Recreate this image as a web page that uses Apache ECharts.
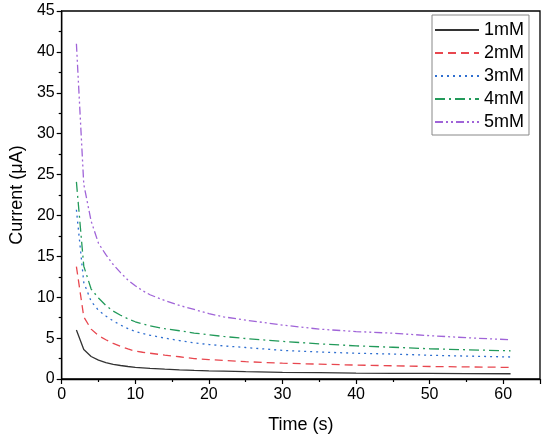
<!DOCTYPE html>
<html>
<head>
<meta charset="utf-8">
<script src="https://cdn.jsdelivr.net/npm/echarts@6/dist/echarts.min.js"></script>
<style>
html,body{margin:0;padding:0;background:#fff;}
#chart{width:550px;height:442px;}
</style>
</head>
<body>
<div id="chart"></div>
<script>
const times = [2,3,4,5,6,7,8,9,10,11,12,14,16,18,20,22,25,30,35,40,45,50,55,61];
const c1mM = [6.0,3.6,2.75,2.3,2.0,1.78,1.65,1.53,1.42,1.36,1.3,1.2,1.12,1.05,1.0,0.96,0.9,0.82,0.77,0.73,0.7,0.68,0.66,0.64];
const c2mM = [13.75,7.6,6.1,5.3,4.8,4.35,4.0,3.68,3.4,3.27,3.15,2.92,2.72,2.5,2.38,2.27,2.12,1.93,1.82,1.7,1.62,1.53,1.48,1.42];
const c3mM = [20.7,11.8,9.5,8.4,7.7,7.1,6.6,6.17,5.8,5.56,5.35,5.0,4.7,4.42,4.22,4.05,3.85,3.5,3.3,3.15,3.05,2.9,2.8,2.69];
const c4mM = [24.1,13.8,11.0,9.9,9.0,8.3,7.8,7.36,7.0,6.74,6.5,6.15,5.9,5.62,5.4,5.2,4.95,4.6,4.3,4.05,3.88,3.7,3.57,3.45];
const c5mM = [41.0,23.8,19.3,16.6,15.2,14.0,13.0,12.1,11.4,10.8,10.3,9.6,9.0,8.5,8.0,7.6,7.2,6.6,6.1,5.8,5.6,5.3,5.05,4.8];
const seriesNames = ['1mM','2mM','3mM','4mM','5mM'];
const seriesValues = [c1mM,c2mM,c3mM,c4mM,c5mM];
const xTicks = {min:0,max:65,interval:10};
const yTicks = {min:0,max:45,interval:5};

const colors = ['#333333','#e8474f','#2f6fd0','#229a5a','#a064d8'];
const dashes = ['solid',[8,5],[2,4],[10,4,2,4],[8,3,2,3,2,3]];
const font = 'Liberation Sans, Arial, sans-serif';

const chart = echarts.init(document.getElementById('chart'), null, {renderer:'canvas'});
chart.setOption({
  animation:false,
  backgroundColor:'#fff',
  grid:{left:60,right:10,top:11,bottom:63,show:true,borderColor:'#000',borderWidth:1.3,containLabel:false},
  legend:{
    orient:'vertical',left:432,top:15,
    borderColor:'#888',borderWidth:1,padding:[6,5,4,2],
    itemWidth:44,itemHeight:14,itemGap:5,
    itemStyle:{opacity:0},
    textStyle:{fontFamily:font,fontSize:18,color:'#000'},
    data:seriesNames
  },
  xAxis:{
    type:'value',min:xTicks.min,max:xTicks.max,interval:xTicks.interval,
    name:'Time (s)',nameLocation:'middle',nameGap:37,
    nameTextStyle:{fontFamily:font,fontSize:18,color:'#000'},
    axisLine:{show:true,lineStyle:{color:'#000',width:1.3}},
    axisTick:{show:true,inside:false,length:5,lineStyle:{color:'#000',width:1.2}},
    minorTick:{show:true,splitNumber:2,length:3,lineStyle:{color:'#000',width:1.2}},
    axisLabel:{fontFamily:font,fontSize:16,color:'#000',margin:8,showMaxLabel:false},
    splitLine:{show:false}
  },
  yAxis:{
    type:'value',min:yTicks.min,max:yTicks.max,interval:yTicks.interval,
    name:'Current (\u03bcA)',nameLocation:'middle',nameGap:33,
    nameTextStyle:{fontFamily:font,fontSize:18,color:'#000'},
    axisLine:{show:true,lineStyle:{color:'#000',width:1.3}},
    axisTick:{show:true,inside:false,length:5,lineStyle:{color:'#000',width:1.2}},
    minorTick:{show:true,splitNumber:2,length:3,lineStyle:{color:'#000',width:1.2}},
    axisLabel:{fontFamily:font,fontSize:16,color:'#000',margin:7},
    splitLine:{show:false}
  },
  series: seriesNames.map((n,i)=>({
    name:n,type:'line',showSymbol:false,symbol:'none',
    data: times.map((t,j)=>[t,seriesValues[i][j]]),
    lineStyle:{color:colors[i],width:1.3,type:dashes[i]},
    itemStyle:{color:colors[i]}
  }))
});
</script>
</body>
</html>
